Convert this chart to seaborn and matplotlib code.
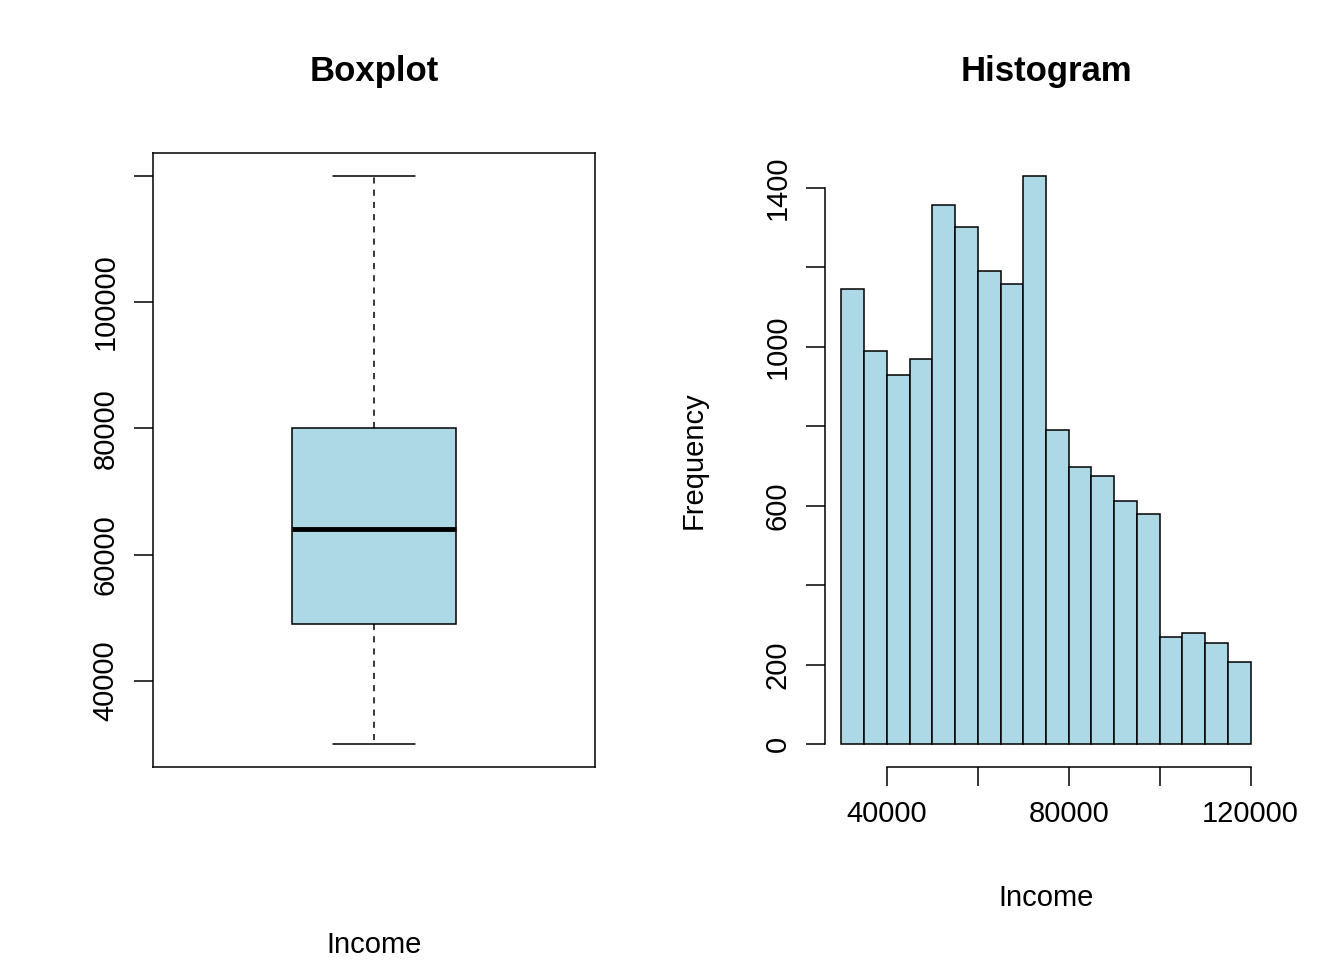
import matplotlib
matplotlib.use("Agg")
import matplotlib.pyplot as plt
import seaborn as sns
import numpy as np

# Boxplot five-number summary of Income
box_values = [30000, 49000, 64000, 80000, 120000]
# Histogram bins and counts
bin_edges = list(range(30000, 120001, 5000))
counts = [1146, 990, 930, 970, 1357, 1302, 1191, 1158, 1430,
          791, 698, 676, 611, 578, 271, 281, 256, 206]

sns.set_theme(style="white")
plt.rcParams['font.family'] = ['Liberation Sans', 'DejaVu Sans']
plt.rcParams['text.color'] = 'black'
plt.rcParams['axes.labelcolor'] = 'black'
fill = '#ADD8E6'

fig = plt.figure(figsize=(13.44, 9.6), dpi=100)
axL = fig.add_axes([153/1344, 193/960, 442/1344, 614/960])
axR = fig.add_axes([825/1344, 193/960, 442/1344, 614/960])

sns.boxplot(y=box_values, ax=axL, color=fill, saturation=1, width=0.4,
            linecolor='black', linewidth=1.1,
            whiskerprops=dict(linestyle=(0, (4, 4))),
            medianprops=dict(linewidth=3.5))
axL.set_xlim(-0.54, 0.54)
axL.set_ylim(26400, 123600)
axL.set_xticks([])
axL.set_yticks([40000, 60000, 80000, 100000, 120000])
axL.set_yticklabels(['40000', '60000', '80000', '100000', ''], rotation=90, va='center')
for s in axL.spines.values():
    s.set_color('black'); s.set_linewidth(1.1)
axL.tick_params(axis='y', left=True, direction='out', length=14, width=1.1,
                labelsize=21, pad=10, colors='black')
axL.set_title('Boxplot', fontsize=25, fontweight='bold', pad=52)
axL.set_xlabel('Income', fontsize=21, labelpad=118)
axL.set_ylabel('')

centers = [(bin_edges[i] + bin_edges[i+1]) / 2 for i in range(len(counts))]
sns.histplot(x=centers, weights=counts, bins=bin_edges, ax=axR, color=fill,
             edgecolor='black', linewidth=1.1, alpha=1)
axR.set_xlim(26400, 123600)
axR.set_ylim(-57, 1487)
for k in ['top', 'right']:
    axR.spines[k].set_visible(False)
for k in ['left', 'bottom']:
    axR.spines[k].set_color('black'); axR.spines[k].set_linewidth(1.1)
axR.spines['left'].set_bounds(0, 1400)
axR.spines['bottom'].set_bounds(40000, 120000)
axR.set_yticks(range(0, 1401, 200))
axR.set_yticklabels(['0', '200', '', '600', '', '1000', '', '1400'], rotation=90, va='center')
axR.set_xticks(range(40000, 120001, 20000))
axR.set_xticklabels(['40000', '', '80000', '', '120000'])
axR.tick_params(axis='both', left=True, bottom=True, direction='out', length=14,
                width=1.1, labelsize=21, pad=10, colors='black')
axR.set_title('Histogram', fontsize=25, fontweight='bold', pad=52)
axR.set_xlabel('Income', fontsize=21, labelpad=40)
axR.set_ylabel('Frequency', fontsize=21, labelpad=40)

fig.savefig('out.png', dpi=100)
